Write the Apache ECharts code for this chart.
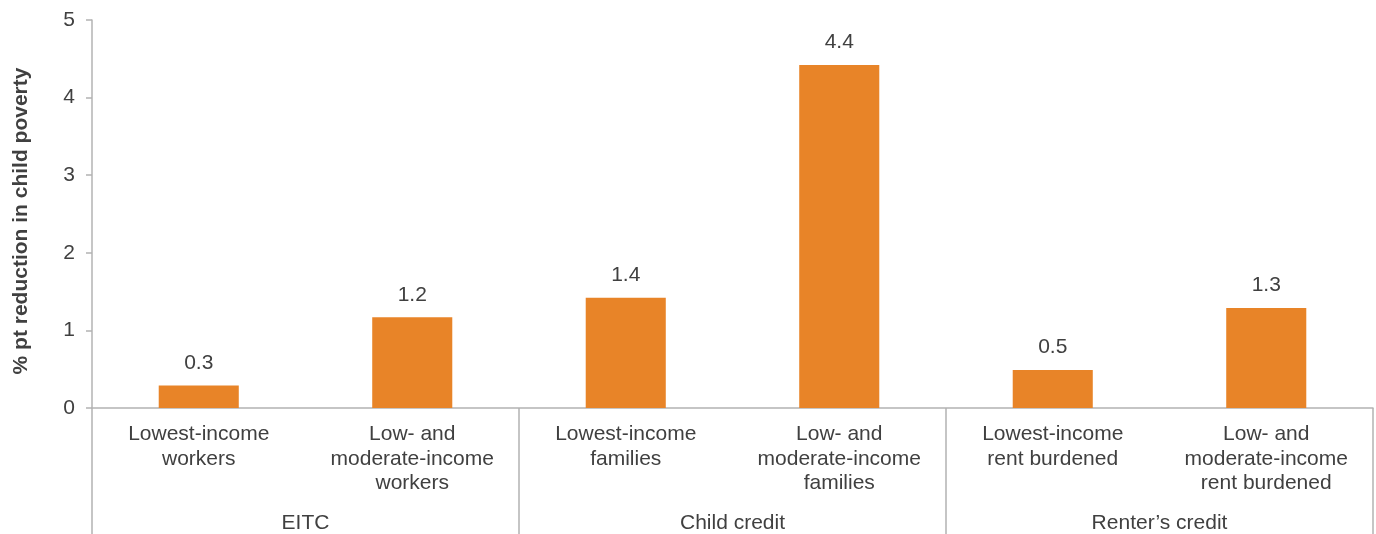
<!DOCTYPE html>
<html>
<head>
<meta charset="utf-8">
<script src="https://cdn.jsdelivr.net/npm/echarts@6/dist/echarts.min.js"></script>
<style>html,body{margin:0;padding:0;background:#fff}#c{width:1376px;height:534px}</style>
</head>
<body>
<div id="c"></div>
<script>
const categories = ["Lowest-income\nworkers", "Low- and\nmoderate-income\nworkers", "Lowest-income\nfamilies", "Low- and\nmoderate-income\nfamilies", "Lowest-income\nrent burdened", "Low- and\nmoderate-income\nrent burdened"];
const groups = ["EITC", "Child credit", "Renter\u2019s credit"];
const values = [0.29, 1.17, 1.42, 4.42, 0.49, 1.29];
const yTicks = [0, 1, 2, 3, 4, 5];

const txt = '#404040';
const axisGrey = '#b3b3b3';
const font = '"Liberation Sans", Arial, sans-serif';

const chart = echarts.init(document.getElementById('c'));
chart.setOption({
  animation: false,
  grid: { left: 92, right: 3, top: 20, bottom: 126, containLabel: false },
  xAxis: [
    {
      type: 'category', data: categories, position: 'bottom',
      axisLine: { lineStyle: { color: axisGrey, width: 1.5 } },
      axisTick: { show: false },
      axisLabel: { color: txt, fontSize: 21, fontFamily: font, lineHeight: 24.5, margin: 14, interval: 0 }
    },
    {
      type: 'category', data: groups, position: 'bottom', offset: 0,
      axisLine: { show: false },
      axisTick: { show: true, length: 126, lineStyle: { color: axisGrey, width: 1.5 } },
      axisLabel: { color: txt, fontSize: 21, fontFamily: font, margin: 105, interval: 0 }
    }
  ],
  yAxis: {
    type: 'value', min: yTicks[0], max: yTicks[yTicks.length - 1], interval: 1,
    name: '% pt reduction in child poverty', nameLocation: 'middle', nameGap: 60,
    nameTextStyle: { color: txt, fontSize: 21, fontWeight: 'bold', fontFamily: font, padding: [0, 14, 0, 0] },
    axisLine: { show: true, lineStyle: { color: axisGrey, width: 1.5 } },
    axisTick: { show: true, length: 6, lineStyle: { color: axisGrey, width: 1.5 } },
    axisLabel: { color: txt, fontSize: 21, fontFamily: font, margin: 17 },
    splitLine: { show: false }
  },
  series: [{
    type: 'bar', xAxisIndex: 0, data: values, barWidth: '37.5%',
    itemStyle: { color: '#E88428' },
    label: { show: true, position: 'top', distance: 12, color: txt, fontSize: 21, fontFamily: font,
      formatter: p => p.value.toFixed(1) }
  }]
});
</script>
</body>
</html>
